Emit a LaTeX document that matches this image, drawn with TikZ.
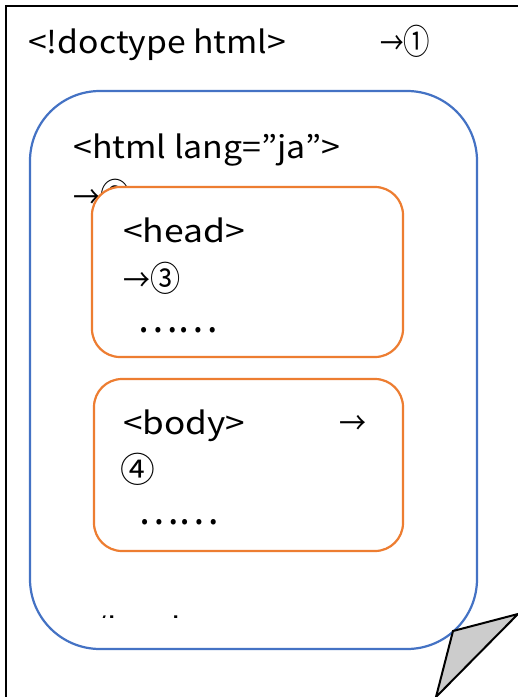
\documentclass[tikz,border=0pt]{standalone}
\usepackage{fontspec}
\setmainfont{Noto Sans CJK JP}
\usepackage{graphicx}
\definecolor{pageblue}{HTML}{4472C4}
\definecolor{boxorange}{HTML}{ED7D31}
\definecolor{foldgray}{HTML}{CCCCCC}
\newcommand{\fitw}[2]{\resizebox{#1}{\height}{#2}}
\newcommand{\circd}[1]{\scalebox{1.12}{#1}}
\begin{document}
\begin{tikzpicture}[x=1pt,y=-1pt,
  txt/.style={inner sep=0pt, anchor=base west, font=\fontsize{31}{31}\selectfont},
  dotstxt/.style={inner sep=0pt, anchor=base west, font=\fontsize{40}{40}\selectfont},
  outerbox/.style={draw=pageblue, line width=2.2pt, rounded corners=70pt, inner sep=0pt},
  innerbox/.style={draw=boxorange, fill=white, line width=2.2pt, rounded corners=28pt, inner sep=0pt}]
\useasboundingbox (0,0) rectangle (518,697);
\fill[white] (0,0) rectangle (518,697);
% page
\coordinate (pbl) at (5.5,697);
\coordinate (ptl) at (5.5,6);
\coordinate (ptr) at (518,6);
\draw[line width=2pt] (pbl) -- (ptl) -- (ptr);
% doctype line
\node[txt] (doctype) at (28,53) {\fitw{258pt}{<!doctype html>}};
\node[txt] (c1) at (380,54) {\fitw{50pt}{→\circd{①}}};
% html box
\node[outerbox, minimum width=447pt, minimum height=558pt] (htmlbox) at (253.5,370) {};
\node[txt] (htmltag) at (73,158) {\fitw{267pt}{<html lang=”ja”>}};
\node[txt] (c2) at (73,208) {\fitw{57pt}{→\circd{②}}};
% head box
\node[innerbox, minimum width=311pt, minimum height=170pt] (headbox) at (247.5,272) {};
\node[txt] (headtag) at (123,242) {\fitw{122pt}{<head>}};
\node[txt] (c3) at (123,291) {\fitw{57pt}{→\circd{③}}};
\node[dotstxt] (hdots) at (137,332) {\fitw{81pt}{……}};
% body box
\node[innerbox, minimum width=309pt, minimum height=172pt] (bodybox) at (248.5,465) {};
\node[txt] (bodytag) at (123,434) {\fitw{122pt}{<body>}};
\node[txt] (barrow) at (339,434) {\fitw{27pt}{→}};
\node[txt] (c4) at (120,482) {\circd{④}};
\node[dotstxt] (bdots) at (138,524) {\fitw{81pt}{……}};
% closing html tag, clipped
\begin{scope}
\clip (0,612) rectangle (518,617.5);
\node[txt] (htmlend) at (75,640) {\fitw{125pt}{</html>}};
\end{scope}
% folded corner
\coordinate (f1) at (453,631);
\coordinate (f2) at (518,614);
\coordinate (f3) at (436,697);
\draw[line width=2pt, fill=foldgray, line join=miter] (f1) -- (f2) -- (f3) -- cycle;
\end{tikzpicture}
\end{document}
